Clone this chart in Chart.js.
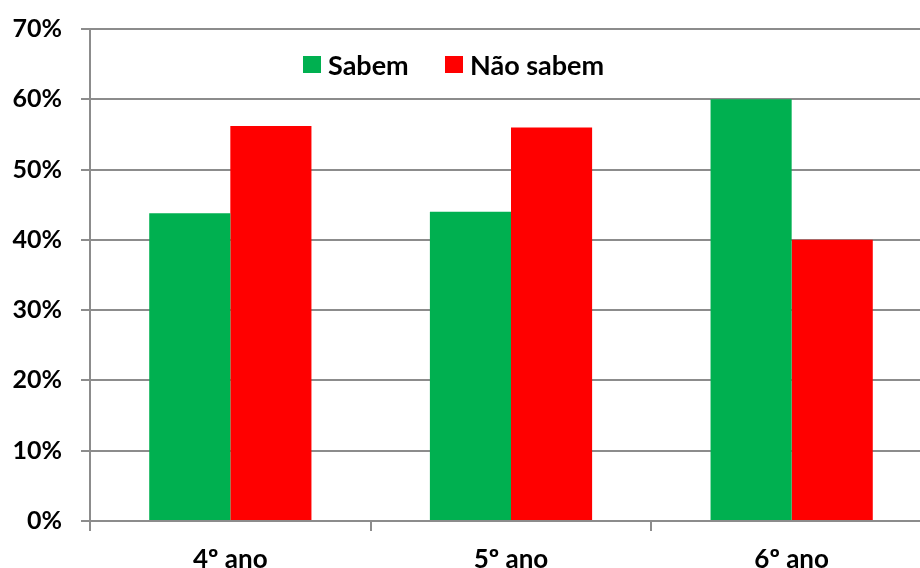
<!DOCTYPE html>
<html>
<head>
<meta charset="utf-8">
<script src="https://cdn.jsdelivr.net/npm/chart.js@4"></script>
<style>
  html, body { margin: 0; padding: 0; background: #fff; overflow: hidden; }
  #wrap { width: 932px; height: 568px; position: relative; }
</style>
</head>
<body>
<div id="wrap"><canvas id="c"></canvas></div>
<script>
// Anos de escolaridade e percentagens de alunos
const categories = ['4º ano', '5º ano', '6º ano'];
const seriesNames = ['Sabem', 'Não sabem'];
const sabem = [43.8, 44.0, 60.0];
const naoSabem = [56.2, 56.0, 40.0];
const yTicks = [0, 10, 20, 30, 40, 50, 60, 70];

const GREEN = '#00B050';
const RED = '#FF0000';
const GRID = '#8C8C8C';
const FONT = 'Lato, "Liberation Sans", sans-serif';

// Legenda desenhada dentro da área do gráfico
const innerLegend = {
  id: 'innerLegend',
  afterDraw(chart) {
    const ctx = chart.ctx;
    const boxX = [303, 445];
    ctx.save();
    ctx.font = 'bold 27px ' + FONT;
    ctx.textBaseline = 'middle';
    ctx.textAlign = 'left';
    const y = 65;
    chart.data.datasets.forEach((ds, i) => {
      const x = boxX[i];
      ctx.fillStyle = ds.backgroundColor;
      ctx.fillRect(x, y - 9, 18, 17);
      ctx.fillStyle = '#000';
      ctx.fillText(ds.label, x + 25, y + 1);
    });
    ctx.restore();
  }
};

new Chart(document.getElementById('c'), {
  type: 'bar',
  data: {
    labels: categories,
    datasets: [
      { label: seriesNames[0], data: sabem, backgroundColor: GREEN },
      { label: seriesNames[1], data: naoSabem, backgroundColor: RED }
    ]
  },
  plugins: [innerLegend],
  options: {
    responsive: true,
    maintainAspectRatio: false,
    animation: false,
    layout: { padding: { top: 29, left: 0, right: 0, bottom: 0 } },
    plugins: { legend: { display: false }, tooltip: { enabled: false } },
    datasets: { bar: { categoryPercentage: 0.578, barPercentage: 1.0 } },
    scales: {
      x: {
        offset: true,
        grid: { offset: true, drawOnChartArea: false, drawTicks: true, tickLength: 10, color: GRID, lineWidth: 2 },
        border: { display: true, color: GRID, width: 2 },
        ticks: { color: '#000', font: { family: FONT, size: 26, weight: 'bold' }, padding: 13 },
        afterFit(scale) { scale.height = 47; scale.paddingLeft = 0; scale.paddingRight = 0; }
      },
      y: {
        min: 0,
        max: 70,
        afterBuildTicks(scale) { scale.ticks = yTicks.map(v => ({ value: v })); },
        grid: { color: GRID, lineWidth: 2, tickLength: 9, drawTicks: true },
        border: { display: true, color: GRID, width: 2 },
        ticks: {
          color: '#000',
          font: { family: FONT, size: 25, weight: 'bold' },
          padding: 19,
          callback: v => v + '%'
        },
        afterFit(scale) { scale.width = 90; scale.paddingTop = 0; scale.paddingBottom = 0; }
      }
    }
  }
});
</script>
</body>
</html>
